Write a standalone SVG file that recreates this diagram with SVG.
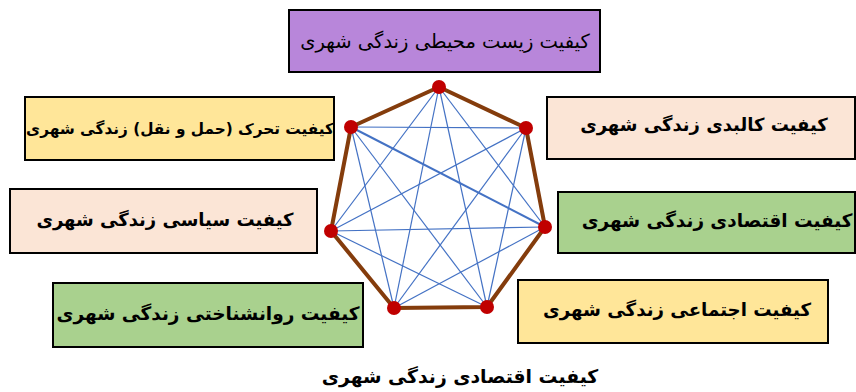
<svg xmlns="http://www.w3.org/2000/svg" width="856" height="392" viewBox="0 0 856 392">
<style>
.box{stroke:#000;stroke-width:2}
.t{font-family:"DejaVu Sans",sans-serif;fill:#000;text-anchor:middle;direction:rtl}
.b{font-weight:bold}
.rim{stroke:#843C0C;stroke-width:4;fill:none;stroke-linejoin:round}
.dg{stroke:#4472C4;stroke-width:1.2}
.dot{fill:#C00000}
</style>
<rect width="856" height="392" fill="#fff"/>
<g id="env"><rect class="box" x="289" y="10" width="311" height="62" fill="#B886DA"/><text class="t" x="445" y="48" font-size="19.5">کیفیت زیست محیطی زندگی شهری</text></g>
<g id="transport"><rect class="box" x="25" y="97" width="309" height="63" fill="#FFE699"/><text class="t b" x="180" y="134" font-size="15.3">کیفیت تحرک (حمل و نقل) زندگی شهری</text></g>
<g id="physical"><rect class="box" x="547" y="97" width="308" height="62" fill="#FBE5D6"/><text class="t b" x="704" y="131" font-size="18">کیفیت کالبدی زندگی شهری</text></g>
<g id="political"><rect class="box" x="10" y="189" width="307" height="64" fill="#FBE5D6"/><text class="t b" x="165" y="226" font-size="18">کیفیت سیاسی زندگی شهری</text></g>
<g id="economic"><rect class="box" x="558" y="192" width="297" height="61" fill="#A9D18E"/><text class="t b" x="717" y="227" font-size="18.4">کیفیت اقتصادی زندگی شهری</text></g>
<g id="psych"><rect class="box" x="53" y="283" width="310" height="64" fill="#A9D18E"/><text class="t b" x="208" y="320" font-size="18.5">کیفیت روانشناختی زندگی شهری</text></g>
<g id="social"><rect class="box" x="518" y="280" width="310" height="63" fill="#FFE699"/><text class="t b" x="677" y="316" font-size="18.2">کیفیت اجتماعی زندگی شهری</text></g>
<g id="title"><text class="t b" x="460" y="383" font-size="18.8">کیفیت اقتصادی زندگی شهری</text></g>
<g id="connectors">
<g class="dg">
<line x1="439" y1="87" x2="545" y2="227"/>
<line x1="439" y1="87" x2="487" y2="307"/>
<line x1="439" y1="87" x2="394" y2="308"/>
<line x1="439" y1="87" x2="331" y2="231"/>
<line x1="526" y1="128" x2="487" y2="307"/>
<line x1="526" y1="128" x2="394" y2="308"/>
<line x1="526" y1="128" x2="331" y2="231"/>
<line x1="526" y1="128" x2="351" y2="127"/>
<line x1="545" y1="227" x2="394" y2="308"/>
<line x1="545" y1="227" x2="331" y2="231"/>
<line x1="545" y1="227" x2="351" y2="127" stroke-width="2"/>
<line x1="487" y1="307" x2="331" y2="231"/>
<line x1="487" y1="307" x2="351" y2="127"/>
<line x1="394" y1="308" x2="351" y2="127"/>
</g>
<polygon class="rim" points="439,87 526,128 545,227 487,307 394,308 331,231 351,127"/>
</g>
<g id="vertices" class="dot">
<circle cx="439" cy="87" r="7"/><circle cx="526" cy="128" r="7"/><circle cx="545" cy="227" r="7"/><circle cx="487" cy="307" r="7"/><circle cx="394" cy="308" r="7"/><circle cx="331" cy="231" r="7"/><circle cx="351" cy="127" r="7"/>
</g>
</svg>
